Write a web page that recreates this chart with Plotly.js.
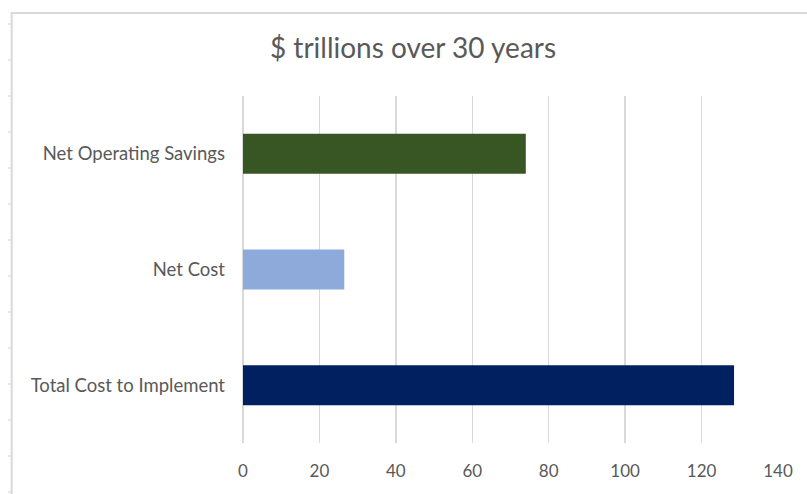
<!DOCTYPE html>
<html>
<head>
<meta charset="utf-8">
<script src="https://cdn.plot.ly/plotly-3.0.1.min.js"></script>
<style>html,body{margin:0;padding:0;background:#fff;}#chart{width:807px;height:494px;}</style>
</head>
<body>
<div id="chart"></div>
<script>
const categories = ["Total Cost to Implement", "Net Cost", "Net Operating Savings"];
const values = [128.5, 26.5, 74.0];
const barColors = ["#002060", "#8eaadb", "#375623"];
const xTicks = [0, 20, 40, 60, 80, 100, 120, 140];
const titleText = "$ trillions over 30 years";

const W = 807, H = 494;
const M = {l: 242.5, r: 29, t: 96, b: 51};
const PW = W - M.l - M.r, PH = H - M.t - M.b;
// convert pixel positions to paper coords (for the screenshot frame decoration)
const px = p => (p - M.l) / PW;
const py = p => (H - M.b - p) / PH;

const frame = [
  {type:'line', xref:'paper', yref:'paper', x0:px(10), x1:px(W), y0:py(13), y1:py(13), line:{color:'#d9d9d9', width:2}},
  {type:'line', xref:'paper', yref:'paper', x0:px(11), x1:px(11), y0:py(H), y1:py(13), line:{color:'#d9d9d9', width:2}}
];
for (let yy = 24; yy < H; yy += 36) {
  frame.push({type:'line', xref:'paper', yref:'paper', x0:px(7.5), x1:px(10), y0:py(yy), y1:py(yy), line:{color:'#dcdcdc', width:1.5}});
}

const layout = {
  width: W, height: H,
  margin: M,
  paper_bgcolor: '#ffffff',
  plot_bgcolor: '#ffffff',
  font: {family: 'Lato, "Open Sans", sans-serif', color: '#595959', size: 17},
  title: {text: titleText, x: 413/W, xref: 'container', xanchor: 'center', y: 1-48/H, yref: 'container', yanchor: 'middle',
          font: {family: 'Lato, "Open Sans", sans-serif', size: 28, color: '#595959'}},
  showlegend: false,
  bargap: 0.654,
  xaxis: {range: [0, 140], tickvals: xTicks, ticktext: xTicks.map(String), showgrid: true, gridcolor: '#d9d9d9', gridwidth: 1.5,
          zeroline: true, zerolinecolor: '#d9d9d9', zerolinewidth: 1.5, showline: false, ticks: '', ticklabelstandoff: 16,
          tickfont: {size: 17, color: '#595959'}, fixedrange: true},
  yaxis: {type: 'category', categoryorder: 'array', categoryarray: categories, showgrid: false, zeroline: false, showline: false,
          ticks: '', ticklabelstandoff: 17, tickfont: {size: 18.5, color: '#595959'}, fixedrange: true},
  shapes: frame
};

Plotly.newPlot('chart', [{
  type: 'bar', orientation: 'h', y: categories, x: values,
  marker: {color: barColors, line: {width: 0}}, hoverinfo: 'x+y'
}], layout, {displayModeBar: false, staticPlot: true});
</script>
</body>
</html>
